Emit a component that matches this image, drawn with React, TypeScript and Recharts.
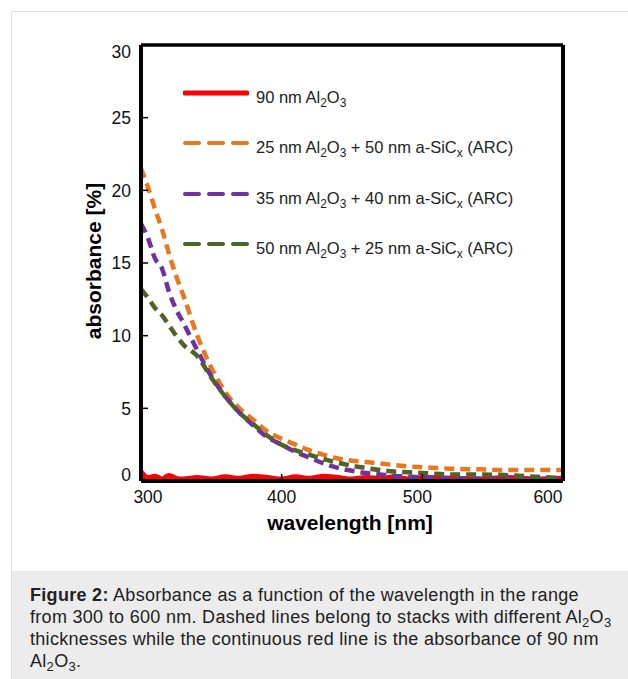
import React from "react";
import { LineChart, Line, XAxis, YAxis, Label } from "recharts";

const wavelengths = [300, 305, 310, 315, 320, 325, 330, 340, 350, 360, 370, 380, 390, 400, 410, 420, 430, 440, 450, 460, 470, 480, 490, 500, 520, 540, 560, 580, 600];
const al2o3_90 = [0.6, 0.2, 0.3, 0.1, 0.35, 0.15, 0.1, 0.2, 0.1, 0.25, 0.15, 0.3, 0.2, 0.1, 0.25, 0.15, 0.3, 0.2, 0.1, 0.2, 0.15, 0.25, 0.1, 0.2, 0.15, 0.1, 0.2, 0.1, 0.15];
const stack25_50 = [21.5, 20.2, 18.7, 17.3, 15.6, 14.1, 12.8, 10.0, 7.8, 6.1, 5.0, 4.2, 3.4, 2.9, 2.5, 2.1, 1.8, 1.55, 1.4, 1.3, 1.2, 1.1, 1.0, 0.95, 0.85, 0.8, 0.75, 0.75, 0.75];
const stack35_40 = [17.7, 16.7, 15.3, 14.6, 13.0, 11.8, 10.9, 9.0, 7.2, 5.8, 4.7, 3.8, 3.0, 2.5, 2.0, 1.6, 1.2, 0.9, 0.7, 0.55, 0.45, 0.35, 0.3, 0.25, 0.2, 0.15, 0.1, 0.1, 0.05];
const stack50_25 = [13.2, 12.6, 11.9, 11.4, 10.7, 10.0, 9.4, 8.6, 7.1, 5.8, 4.7, 3.9, 3.1, 2.5, 2.1, 1.8, 1.5, 1.25, 1.05, 0.9, 0.75, 0.65, 0.6, 0.55, 0.45, 0.45, 0.4, 0.3, 0.2];

const xTicks = [300, 400, 500, 600];
const yTicks = [0, 5, 10, 15, 20, 25, 30];

const data = wavelengths.map((w, i) => ({
  w,
  a90: al2o3_90[i],
  a25: stack25_50[i],
  a35: stack35_40[i],
  a50: stack50_25[i],
}));

const FONT = "'Liberation Sans', Arial, sans-serif";
const DASH = "10 6";

const XTick = (props: any) => {
  const { x, y, payload } = props;
  let dx = 0;
  if (payload.value === 300) dx = 7;
  if (payload.value === 500) dx = -5;
  if (payload.value === 600) dx = -15;
  return (
    <text x={x + dx} y={y} dy="0.71em" textAnchor="middle" fontSize={17.5} fill="#111" fontFamily={FONT}>
      {payload.value}
    </text>
  );
};

const YTick = (props: any) => {
  const { x, y, payload } = props;
  let dy = 0;
  if (payload.value === 30) dy = 7;
  if (payload.value === 0) dy = -6;
  return (
    <text x={x} y={y + dy} dy="0.36em" textAnchor="end" fontSize={17.5} fill="#111" fontFamily={FONT}>
      {payload.value}
    </text>
  );
};

const legendRows = [
  { color: "#ff0000", dashed: false, top: 93, text: <>90 nm Al<sub>2</sub>O<sub>3</sub></> },
  { color: "#e8771e", dashed: true, top: 143, text: <>25 nm Al<sub>2</sub>O<sub>3</sub> + 50 nm a-SiC<sub>x</sub> (ARC)</> },
  { color: "#7030a0", dashed: true, top: 194, text: <>35 nm Al<sub>2</sub>O<sub>3</sub> + 40 nm a-SiC<sub>x</sub> (ARC)</> },
  { color: "#4f6228", dashed: true, top: 244, text: <>50 nm Al<sub>2</sub>O<sub>3</sub> + 25 nm a-SiC<sub>x</sub> (ARC)</> },
];

const subStyle = `.cap sub, .leg sub { font-size: 0.72em; vertical-align: -0.3em; line-height: 0; }`;

export default function App() {
  return (
    <div style={{ position: "absolute", left: 0, top: 0, width: 628, height: 679, overflow: "hidden", background: "#fff", fontFamily: FONT }}>
      <style>{subStyle}</style>
      <div style={{ position: "absolute", left: 11, top: 11, width: 640, height: 700, border: "1px solid #dedede", boxSizing: "border-box" }} />
      <div style={{ position: "absolute", left: 0, top: 0 }}>
        <LineChart width={628} height={560} data={data} margin={{ top: 44, right: 64, bottom: 29, left: 0 }}>
          <XAxis
            dataKey="w"
            type="number"
            domain={[300, 600]}
            ticks={xTicks}
            height={50}
            tick={<XTick />}
            tickSize={-7}
            tickMargin={17}
            tickLine={{ stroke: "#000", strokeWidth: 1.5 }}
            axisLine={{ stroke: "#000", strokeWidth: 4 }}
          >
            <Label
              content={(p: any) => {
                const vb = p.viewBox;
                return (
                  <text x={vb.x + vb.width / 2 - 2} y={529.5} textAnchor="middle" fontSize={21} fontWeight="bold" fill="#000" fontFamily={FONT}>
                    wavelength [nm]
                  </text>
                );
              }}
            />
          </XAxis>
          <XAxis
            xAxisId="top"
            orientation="top"
            dataKey="w"
            type="number"
            domain={[300, 600]}
            ticks={xTicks}
            height={1}
            tick={false}
            tickSize={-7}
            tickLine={{ stroke: "#000", strokeWidth: 1.5 }}
            axisLine={{ stroke: "#000", strokeWidth: 3.5 }}
          />
          <YAxis
            type="number"
            domain={[0, 30]}
            ticks={yTicks}
            width={141}
            tick={<YTick />}
            tickSize={-7}
            tickMargin={17}
            tickLine={{ stroke: "#000", strokeWidth: 1.5 }}
            axisLine={{ stroke: "#000", strokeWidth: 4 }}
          >
            <Label
              content={(p: any) => {
                const vb = p.viewBox;
                const cy = vb.y + vb.height / 2 - 2;
                return (
                  <text x={101} y={cy} transform={`rotate(-90, 101, ${cy})`} textAnchor="middle" fontSize={21} fontWeight="bold" fill="#000" fontFamily={FONT}>
                    absorbance [%]
                  </text>
                );
              }}
            />
          </YAxis>
          <YAxis
            yAxisId="right"
            orientation="right"
            type="number"
            domain={[0, 30]}
            ticks={yTicks}
            width={1}
            tick={false}
            tickSize={-7}
            tickLine={{ stroke: "#000", strokeWidth: 1.5 }}
            axisLine={{ stroke: "#000", strokeWidth: 4 }}
          />
          <Line dataKey="a90" type="monotone" stroke="#ff0000" strokeWidth={6} dot={false} isAnimationActive={false} />
          <Line dataKey="a25" type="monotone" stroke="#e8771e" strokeWidth={4.5} strokeDasharray={DASH} dot={false} isAnimationActive={false} />
          <Line dataKey="a35" type="monotone" stroke="#7030a0" strokeWidth={4.5} strokeDasharray={DASH} dot={false} isAnimationActive={false} />
          <Line dataKey="a50" type="monotone" stroke="#4f6228" strokeWidth={4.5} strokeDasharray={DASH} dot={false} isAnimationActive={false} />
        </LineChart>
      </div>
      {legendRows.map((r, i) => (
        <React.Fragment key={i}>
          <svg style={{ position: "absolute", left: 183, top: r.top - 4 }} width={66} height={8}>
            <line x1={2} y1={4} x2={64} y2={4} stroke={r.color} strokeWidth={r.dashed ? 4 : 5} strokeDasharray={r.dashed ? "14 10" : undefined} strokeLinecap="round" />
          </svg>
          <div className="leg" style={{ position: "absolute", left: 256, top: r.top - 4, fontSize: 16.5, lineHeight: "16px", color: "#222", whiteSpace: "nowrap" }}>
            {r.text}
          </div>
        </React.Fragment>
      ))}
      <div
        className="cap"
        style={{ position: "absolute", left: 12, top: 571, width: 616, height: 108, background: "#ececec", color: "#222", fontSize: 18, letterSpacing: "0.3px", lineHeight: "22.2px", padding: "12.7px 0 0 18px", boxSizing: "border-box", whiteSpace: "nowrap" }}
      >
        <b>Figure 2:</b> Absorbance as a function of the wavelength in the range
        <br />
        from 300 to 600 nm. Dashed lines belong to stacks with different Al<sub>2</sub>O<sub>3</sub>
        <br />
        thicknesses while the continuous red line is the absorbance of 90 nm
        <br />
        Al<sub>2</sub>O<sub>3</sub>.
      </div>
    </div>
  );
}
